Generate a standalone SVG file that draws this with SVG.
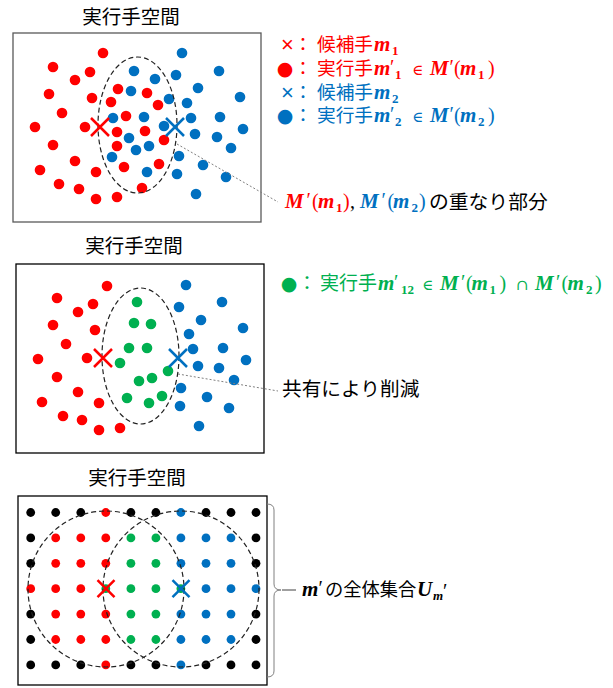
<svg xmlns="http://www.w3.org/2000/svg" width="613" height="688" viewBox="0 0 613 688">
<defs>
<style>
.jp{font-family:"Noto Sans CJK JP","Noto Sans CJK SC",sans-serif;}
.sym{font-family:"DejaVu Sans","Liberation Sans",sans-serif;text-anchor:middle;}
.mul{font-family:"Liberation Sans","DejaVu Sans",sans-serif;font-size:22px;text-anchor:middle;}
.mi{font-family:"Liberation Serif","DejaVu Serif",serif;font-style:italic;font-weight:bold;font-size:21px;}
.ms{font-family:"Liberation Serif","DejaVu Serif",serif;font-weight:bold;font-size:13px;}
.mr{font-family:"Liberation Serif","DejaVu Serif",serif;font-size:20px;}
.sy{font-family:"DejaVu Serif",serif;font-size:15px;}
.r{fill:#FF0000}.b{fill:#0070C0}.g{fill:#00B050}.k{fill:#000}
.frame{fill:#fff;stroke:#000;stroke-width:1.3}
.dash{fill:none;stroke:#222;stroke-width:1.2;stroke-dasharray:5 3}
.lead{fill:none;stroke:#808080;stroke-width:1;stroke-dasharray:2 2}
.xr{stroke:#FF0000;stroke-width:2.5;fill:none}
.xb{stroke:#0070C0;stroke-width:2.5;fill:none}
.title{font-size:19.5px;text-anchor:middle;fill:#000}
</style>
</defs>
<rect width="613" height="688" fill="#fff"/>

<g id="panel-top">
<text class="jp title" x="131" y="23.5">実行手空間</text>
<rect class="frame" x="13" y="33" width="248" height="189" style="stroke:#595959"/>
<g class="b">
<circle cx="182" cy="53" r="5.3"/><circle cx="134" cy="71" r="5.3"/><circle cx="176" cy="75" r="5.3"/><circle cx="219" cy="71" r="5.3"/><circle cx="155" cy="79" r="5.3"/><circle cx="131" cy="91" r="5.3"/><circle cx="198" cy="88" r="5.3"/><circle cx="240" cy="97" r="5.3"/><circle cx="169" cy="99" r="5.3"/><circle cx="187" cy="103" r="5.3"/><circle cx="113" cy="118" r="5.3"/><circle cx="144" cy="117" r="5.3"/><circle cx="191" cy="118" r="5.3"/><circle cx="220" cy="117" r="5.3"/><circle cx="164" cy="126" r="5.3"/><circle cx="243" cy="129" r="5.3"/><circle cx="195" cy="134" r="5.3"/><circle cx="217" cy="137" r="5.3"/><circle cx="129" cy="138" r="5.3"/><circle cx="149" cy="146" r="5.3"/><circle cx="136" cy="150" r="5.3"/><circle cx="231" cy="148" r="5.3"/><circle cx="112" cy="157" r="5.3"/><circle cx="179" cy="156" r="5.3"/><circle cx="203" cy="165" r="5.3"/><circle cx="147" cy="172" r="5.3"/><circle cx="177" cy="174" r="5.3"/><circle cx="226" cy="177" r="5.3"/><circle cx="196" cy="194" r="5.3"/>
</g>
<g class="r">
<circle cx="103" cy="53" r="5.3"/><circle cx="53" cy="67" r="5.3"/><circle cx="90" cy="72" r="5.3"/><circle cx="75" cy="80" r="5.3"/><circle cx="49" cy="94" r="5.3"/><circle cx="118" cy="89" r="5.3"/><circle cx="147" cy="93" r="5.3"/><circle cx="92" cy="98" r="5.3"/><circle cx="111" cy="102" r="5.3"/><circle cx="158" cy="105" r="5.3"/><circle cx="62" cy="113" r="5.3"/><circle cx="126" cy="116" r="5.3"/><circle cx="35" cy="127" r="5.3"/><circle cx="85" cy="127" r="5.3"/><circle cx="117" cy="132" r="5.3"/><circle cx="145" cy="131" r="5.3"/><circle cx="164" cy="140" r="5.3"/><circle cx="53" cy="145" r="5.3"/><circle cx="117" cy="146" r="5.3"/><circle cx="75" cy="161" r="5.3"/><circle cx="40" cy="170" r="5.3"/><circle cx="96" cy="172" r="5.3"/><circle cx="124" cy="167" r="5.3"/><circle cx="159" cy="164" r="5.3"/><circle cx="59" cy="184" r="5.3"/><circle cx="79" cy="189" r="5.3"/><circle cx="96" cy="199" r="5.3"/><circle cx="117" cy="197" r="5.3"/><circle cx="142" cy="188" r="5.3"/>
</g>
<ellipse class="dash" cx="137.5" cy="125" rx="39.5" ry="68"/>
<path class="xr" d="M91,118 L109,136 M109,118 L91,136"/>
<path class="xb" d="M166,118 L184,136 M184,118 L166,136"/>
</g>

<g id="legend-top">
<g id="legend-m1" class="r">
<text class="mul" x="287.5" y="52">×</text>
<text class="jp" x="303" y="51" font-size="18.5" text-anchor="middle">：</text>
<text class="jp" x="317" y="51" font-size="18.7">候補手</text>
<text class="mi" x="374" y="51">m</text><text class="ms" x="392" y="55">1</text>
</g>
<g id="legend-m1p" class="r">
<text class="sym" x="285" y="75" font-size="19">●</text>
<text class="jp" x="303" y="75" font-size="18.5" text-anchor="middle">：</text>
<text class="jp" x="317" y="75" font-size="18.7">実行手</text>
<text class="mi" x="374" y="75">m</text><text class="mr" x="390" y="74" font-size="17">′</text><text class="ms" x="395" y="79">1</text>
<text class="sy" x="417.5" y="75" text-anchor="middle">∈</text>
<text class="mi" x="430" y="75">M</text><text class="mr" x="449.5" y="74" font-size="17">′</text><text class="mr" x="454" y="75">(</text><text class="mi" x="460" y="75">m</text><text class="ms" x="478" y="79">1</text><text class="mr" x="488" y="75">)</text>
</g>
<g id="legend-m2" class="b">
<text class="mul" x="287.5" y="100">×</text>
<text class="jp" x="303" y="99" font-size="18.5" text-anchor="middle">：</text>
<text class="jp" x="317" y="99" font-size="18.7">候補手</text>
<text class="mi" x="374" y="99">m</text><text class="ms" x="392" y="103">2</text>
</g>
<g id="legend-m2p" class="b">
<text class="sym" x="285" y="122" font-size="19">●</text>
<text class="jp" x="303" y="122" font-size="18.5" text-anchor="middle">：</text>
<text class="jp" x="317" y="122" font-size="18.7">実行手</text>
<text class="mi" x="374" y="122">m</text><text class="mr" x="390" y="121" font-size="17">′</text><text class="ms" x="395" y="126">2</text>
<text class="sy" x="417.5" y="122" text-anchor="middle">∈</text>
<text class="mi" x="430" y="122">M</text><text class="mr" x="449.5" y="121" font-size="17">′</text><text class="mr" x="454" y="122">(</text><text class="mi" x="460" y="122">m</text><text class="ms" x="478" y="126">2</text><text class="mr" x="488" y="122">)</text>
</g>
</g>

<g id="label-overlap">
<text class="mi r" x="285" y="208">M</text><text class="mr r" x="306.5" y="207" font-size="17">′</text><text class="mr r" x="312" y="208">(</text><text class="mi r" x="318" y="208">m</text><text class="ms r" x="336" y="212">1</text><text class="mr r" x="343" y="208">)</text>
<text class="mr k" x="350" y="208">,</text>
<text class="mi b" x="360" y="208">M</text><text class="mr b" x="381.5" y="207" font-size="17">′</text><text class="mr b" x="387.5" y="208">(</text><text class="mi b" x="393" y="208">m</text><text class="ms b" x="411.5" y="212">2</text><text class="mr b" x="419" y="208">)</text>
<text class="jp k" x="429" y="209" font-size="19.8">の重なり部分</text>
</g>

<g id="panel-middle">
<text class="jp title" x="134" y="253">実行手空間</text>
<rect class="frame" x="16" y="264" width="248" height="189"/>
<g class="r">
<circle cx="107" cy="286" r="5.3"/><circle cx="57" cy="298" r="5.3"/><circle cx="93" cy="304" r="5.3"/><circle cx="78" cy="312" r="5.3"/><circle cx="53" cy="325" r="5.3"/><circle cx="95" cy="330" r="5.3"/><circle cx="66" cy="344" r="5.3"/><circle cx="38" cy="359" r="5.3"/><circle cx="87" cy="358" r="5.3"/><circle cx="57" cy="377" r="5.3"/><circle cx="78" cy="392" r="5.3"/><circle cx="42" cy="402" r="5.3"/><circle cx="99" cy="403" r="5.3"/><circle cx="63" cy="416" r="5.3"/><circle cx="82" cy="420" r="5.3"/><circle cx="99" cy="430" r="5.3"/><circle cx="120" cy="428" r="5.3"/>
</g>
<g class="g">
<circle cx="137" cy="302" r="5.3"/><circle cx="134" cy="323" r="5.3"/><circle cx="151" cy="324" r="5.3"/><circle cx="129" cy="348" r="5.3"/><circle cx="147" cy="348" r="5.3"/><circle cx="120" cy="363" r="5.3"/><circle cx="168" cy="371" r="5.3"/><circle cx="139" cy="381" r="5.3"/><circle cx="152" cy="378" r="5.3"/><circle cx="127" cy="398" r="5.3"/><circle cx="162" cy="396" r="5.3"/><circle cx="149" cy="403" r="5.3"/>
</g>
<g class="b">
<circle cx="186" cy="285" r="5.3"/><circle cx="222" cy="302" r="5.3"/><circle cx="179" cy="307" r="5.3"/><circle cx="201" cy="320" r="5.3"/><circle cx="243" cy="328" r="5.3"/><circle cx="189" cy="334" r="5.3"/><circle cx="193" cy="349" r="5.3"/><circle cx="223" cy="348" r="5.3"/><circle cx="198" cy="366" r="5.3"/><circle cx="219" cy="368" r="5.3"/><circle cx="246" cy="360" r="5.3"/><circle cx="234" cy="380" r="5.3"/><circle cx="181" cy="388" r="5.3"/><circle cx="207" cy="397" r="5.3"/><circle cx="180" cy="406" r="5.3"/><circle cx="229" cy="408" r="5.3"/><circle cx="199" cy="426" r="5.3"/>
</g>
<ellipse class="dash" cx="140.5" cy="356" rx="38.5" ry="68"/>
<path class="xr" d="M94,349 L112,367 M112,349 L94,367"/>
<path class="xb" d="M169,349 L187,367 M187,349 L169,367"/>
</g>

<g id="legend-m12" class="g">
<text class="sym" x="289" y="290" font-size="19">●</text>
<text class="jp" x="307" y="290" font-size="19" text-anchor="middle">：</text>
<text class="jp" x="320" y="290" font-size="19">実行手</text>
<text class="mi" x="378" y="290">m</text><text class="mr" x="394" y="289" font-size="17">′</text><text class="ms" x="401" y="294">12</text>
<text class="sy" x="427.5" y="290" text-anchor="middle">∈</text>
<text class="mi" x="440" y="290">M</text><text class="mr" x="461" y="289" font-size="17">′</text><text class="mr" x="466" y="290">(</text><text class="mi" x="471.5" y="290">m</text><text class="ms" x="489.5" y="294">1</text><text class="mr" x="499.5" y="290">)</text>
<text class="sy" x="522" y="290" text-anchor="middle">∩</text>
<text class="mi" x="535" y="290">M</text><text class="mr" x="556" y="289" font-size="17">′</text><text class="mr" x="561.5" y="290">(</text><text class="mi" x="567.5" y="290">m</text><text class="ms" x="586" y="294">2</text><text class="mr" x="595" y="290">)</text>
</g>

<g id="label-shared">
<text class="jp k" x="282" y="396" font-size="19.7">共有により削減</text>
</g>

<g id="panel-bottom">
<text class="jp title" x="137" y="485">実行手空間</text>
<rect class="frame" x="18" y="496" width="249" height="189"/>
<g class="k">
<circle cx="30.7" cy="512.5" r="4.4"/><circle cx="55.7" cy="512.5" r="4.4"/><circle cx="80.8" cy="512.5" r="4.4"/><circle cx="130.9" cy="512.5" r="4.4"/><circle cx="155.9" cy="512.5" r="4.4"/><circle cx="206" cy="512.5" r="4.4"/><circle cx="231" cy="512.5" r="4.4"/><circle cx="256" cy="512.5" r="4.4"/>
<circle cx="30.7" cy="537.9" r="4.4"/><circle cx="256" cy="537.9" r="4.4"/>
<circle cx="30.7" cy="563.3" r="4.4"/><circle cx="256" cy="563.3" r="4.4"/>
<circle cx="30.7" cy="614.1" r="4.4"/><circle cx="256" cy="614.1" r="4.4"/>
<circle cx="30.7" cy="639.5" r="4.4"/><circle cx="256" cy="639.5" r="4.4"/>
<circle cx="30.7" cy="664.9" r="4.4"/><circle cx="55.7" cy="664.9" r="4.4"/><circle cx="80.8" cy="664.9" r="4.4"/><circle cx="130.9" cy="664.9" r="4.4"/><circle cx="155.9" cy="664.9" r="4.4"/><circle cx="206" cy="664.9" r="4.4"/><circle cx="231" cy="664.9" r="4.4"/><circle cx="256" cy="664.9" r="4.4"/>
</g>
<g class="r">
<circle cx="105.8" cy="512.5" r="4.4"/>
<circle cx="55.7" cy="537.9" r="4.4"/><circle cx="80.8" cy="537.9" r="4.4"/><circle cx="105.8" cy="537.9" r="4.4"/>
<circle cx="55.7" cy="563.3" r="4.4"/><circle cx="80.8" cy="563.3" r="4.4"/><circle cx="105.8" cy="563.3" r="4.4"/>
<circle cx="30.7" cy="588.7" r="4.4"/><circle cx="55.7" cy="588.7" r="4.4"/><circle cx="80.8" cy="588.7" r="4.4"/>
<circle cx="55.7" cy="614.1" r="4.4"/><circle cx="80.8" cy="614.1" r="4.4"/><circle cx="105.8" cy="614.1" r="4.4"/>
<circle cx="55.7" cy="639.5" r="4.4"/><circle cx="80.8" cy="639.5" r="4.4"/><circle cx="105.8" cy="639.5" r="4.4"/>
<circle cx="105.8" cy="664.9" r="4.4"/>
</g>
<g class="g">
<circle cx="130.9" cy="537.9" r="4.4"/><circle cx="155.9" cy="537.9" r="4.4"/>
<circle cx="130.9" cy="563.3" r="4.4"/><circle cx="155.9" cy="563.3" r="4.4"/>
<circle cx="105.8" cy="588.7" r="4.4"/><circle cx="130.9" cy="588.7" r="4.4"/><circle cx="155.9" cy="588.7" r="4.4"/><circle cx="180.9" cy="588.7" r="4.4"/>
<circle cx="130.9" cy="614.1" r="4.4"/><circle cx="155.9" cy="614.1" r="4.4"/>
<circle cx="130.9" cy="639.5" r="4.4"/><circle cx="155.9" cy="639.5" r="4.4"/>
</g>
<g class="b">
<circle cx="180.9" cy="512.5" r="4.4"/>
<circle cx="180.9" cy="537.9" r="4.4"/><circle cx="206" cy="537.9" r="4.4"/><circle cx="231" cy="537.9" r="4.4"/>
<circle cx="180.9" cy="563.3" r="4.4"/><circle cx="206" cy="563.3" r="4.4"/><circle cx="231" cy="563.3" r="4.4"/>
<circle cx="206" cy="588.7" r="4.4"/><circle cx="231" cy="588.7" r="4.4"/><circle cx="256" cy="588.7" r="4.4"/>
<circle cx="180.9" cy="614.1" r="4.4"/><circle cx="206" cy="614.1" r="4.4"/><circle cx="231" cy="614.1" r="4.4"/>
<circle cx="180.9" cy="639.5" r="4.4"/><circle cx="206" cy="639.5" r="4.4"/><circle cx="231" cy="639.5" r="4.4"/>
<circle cx="180.9" cy="664.9" r="4.4"/>
</g>
<circle class="dash" cx="106" cy="589" r="78"/>
<circle class="dash" cx="181" cy="589" r="78"/>
<path class="xr" d="M97.5,580.2 L114.5,597.2 M114.5,580.2 L97.5,597.2"/>
<path class="xb" d="M172.5,580.2 L189.5,597.2 M189.5,580.2 L172.5,597.2"/>
</g>

<g id="label-universe">
<text class="mi k" x="302" y="595.5">m</text><text class="mr k" x="318.5" y="594.5" font-size="17">′</text>
<text class="jp k" x="325" y="596" font-size="18.3">の全体集合</text>
<text class="mi k" x="417" y="595.5">U</text><text class="ms k" x="433" y="600" font-style="italic">m</text><text class="mr k" x="443" y="598" font-size="12">′</text>
</g>

<g id="connectors">
<path class="lead" d="M177,144 L278,202"/>
<path class="lead" d="M178,374 L278,391"/>
<path d="M267,504 Q274,504 274,510 L274,584 Q274,590 281,590 Q274,590 274,596 L274,671 Q274,677 267,677" fill="none" stroke="#808080" stroke-width="1"/>
<path d="M282,590 L296,590" fill="none" stroke="#404040" stroke-width="1"/>
</g>
</svg>
